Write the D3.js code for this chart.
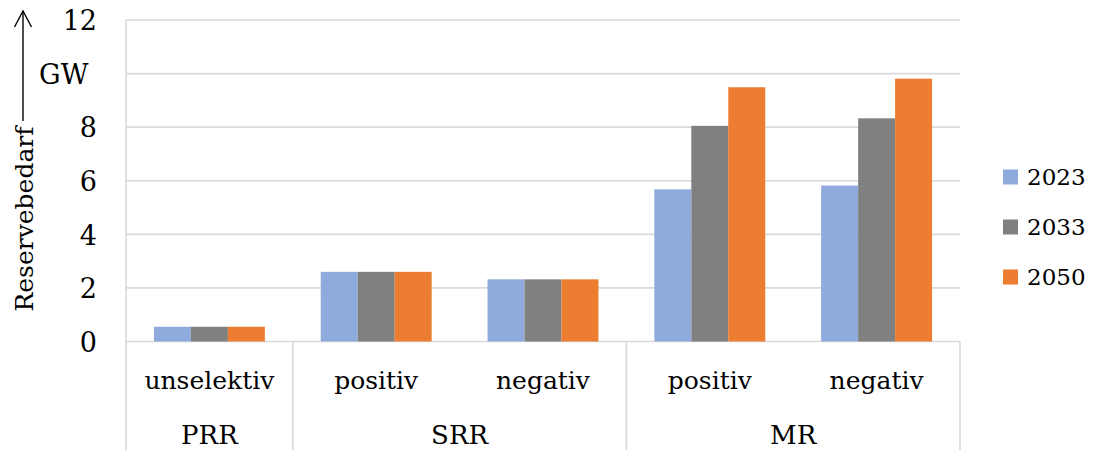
<!DOCTYPE html>
<html>
<head>
<meta charset="utf-8">
<script src="https://cdn.jsdelivr.net/npm/d3@7"></script>
<style>
  html, body { margin: 0; padding: 0; background: #fff; }
  svg { display: block; font-family: "DejaVu Serif", "Liberation Serif", serif; }
</style>
</head>
<body>
<svg id="chart" width="1096" height="450"></svg>
<script>
// Reserve requirement per reserve type and direction (GW)
const groups = ["PRR", "SRR", "MR"];
const categories = ["unselektiv", "positiv", "negativ", "positiv", "negativ"];
const categoryGroup = ["PRR", "SRR", "SRR", "MR", "MR"];
const seriesNames = ["2023", "2033", "2050"];
const values2023 = [0.55, 2.60, 2.32, 5.68, 5.82];
const values2033 = [0.55, 2.60, 2.32, 8.05, 8.33];
const values2050 = [0.55, 2.60, 2.32, 9.49, 9.81];
const yTicks = [0, 2, 4, 6, 8, 10, 12];
const yTickLabels = ["0", "2", "4", "6", "8", "GW\u00a0", "12"];
const colors = ["#8faadc", "#808080", "#ed7d31"];

const series = [values2023, values2033, values2050];

const svg = d3.select("#chart");
const plotLeft = 126, plotRight = 960, plotTop = 20, plotBottom = 341.5;

const y = d3.scaleLinear().domain([0, 12]).range([plotBottom, plotTop]);
const x = d3.scaleBand().domain(d3.range(categories.length)).range([plotLeft, plotRight]).padding(0);
const xs = d3.scaleBand().domain(d3.range(seriesNames.length))
  .range([x.bandwidth() * 0.1675, x.bandwidth() * 0.8325]).padding(0);

const grid = "#d9d9d9";

// horizontal gridlines
svg.append("g").selectAll("line").data(yTicks).join("line")
  .attr("x1", plotLeft).attr("x2", plotRight)
  .attr("y1", d => y(d)).attr("y2", d => y(d))
  .attr("stroke", grid).attr("stroke-width", 1.6);

// value axis labels
const yAxis = svg.append("g").attr("transform", `translate(97,0)`)
  .call(d3.axisLeft(y).tickValues(yTicks).tickSize(0).tickPadding(0)
    .tickFormat((d, i) => yTickLabels[i]));
yAxis.select(".domain").remove();
yAxis.selectAll("text")
  .attr("font-family", "DejaVu Serif").attr("font-size", 27)
  .attr("fill", "#000").attr("dy", "0.36em");

// bars
const barG = svg.append("g");
series.forEach((vals, si) => {
  barG.append("g").selectAll("rect").data(vals).join("rect")
    .attr("x", (d, i) => x(i) + xs(si))
    .attr("width", xs.bandwidth())
    .attr("y", d => y(d))
    .attr("height", d => y(0) - y(d))
    .attr("fill", colors[si]);
});

// left border line of the plot/category area
svg.append("line")
  .attr("x1", plotLeft).attr("x2", plotLeft).attr("y1", plotTop).attr("y2", 450)
  .attr("stroke", grid).attr("stroke-width", 1.6);

// group separators in the category axis
const groupBounds = [];
groups.forEach(g => {
  const idx = categoryGroup.map((c, i) => c === g ? i : -1).filter(i => i >= 0);
  groupBounds.push({ name: g, start: d3.min(idx), end: d3.max(idx) });
});
const sepXs = groupBounds.map(b => x(b.end) + x.bandwidth());
svg.append("g").selectAll("line").data(sepXs).join("line")
  .attr("x1", d => d).attr("x2", d => d)
  .attr("y1", plotBottom).attr("y2", 450)
  .attr("stroke", grid).attr("stroke-width", 1.6);

// category labels
svg.append("g").selectAll("text").data(categories).join("text")
  .attr("x", (d, i) => x(i) + x.bandwidth() / 2)
  .attr("y", 389)
  .attr("text-anchor", "middle")
  .attr("font-size", 25)
  .text(d => d);

// group labels
svg.append("g").selectAll("text").data(groupBounds).join("text")
  .attr("x", b => (x(b.start) + x(b.end) + x.bandwidth()) / 2)
  .attr("y", 444)
  .attr("text-anchor", "middle")
  .attr("font-size", 26)
  .text(b => b.name);

// axis title with upward arrow
const titleX = 33, titleCY = 219;
svg.append("text")
  .attr("transform", `translate(${titleX},${titleCY}) rotate(-90)`)
  .attr("text-anchor", "middle")
  .attr("font-size", 25)
  .text("Reservebedarf");
svg.append("line")
  .attr("x1", 23).attr("x2", 23).attr("y1", 121).attr("y2", 11)
  .attr("stroke", "#000").attr("stroke-width", 1.4);
svg.append("path")
  .attr("d", "M14.5,27 L23,11 L31.5,27")
  .attr("fill", "none").attr("stroke", "#000").attr("stroke-width", 1.4);

// legend
const legend = svg.append("g").selectAll("g").data(seriesNames).join("g")
  .attr("transform", (d, i) => `translate(1003,${177 + i * 50})`);
legend.append("rect")
  .attr("x", 0).attr("y", -7.5).attr("width", 15).attr("height", 15)
  .attr("fill", (d, i) => colors[i]);
legend.append("text")
  .attr("x", 24).attr("y", 0).attr("dy", "0.36em")
  .attr("font-size", 23)
  .text(d => d);
</script>
</body>
</html>
